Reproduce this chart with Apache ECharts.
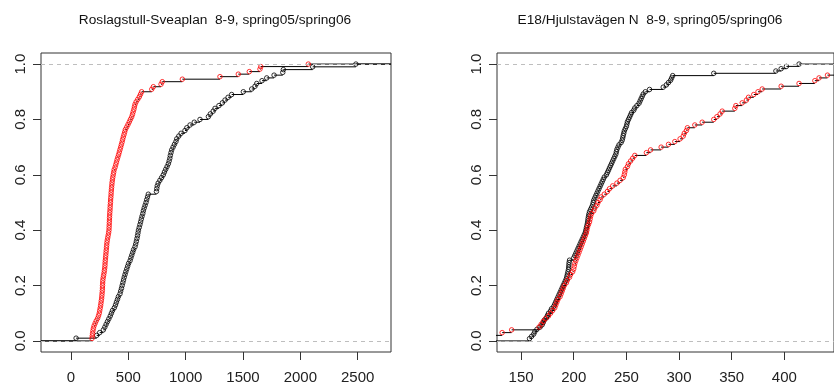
<!DOCTYPE html>
<html><head><meta charset="utf-8">
<script src="https://cdn.jsdelivr.net/npm/echarts@6/dist/echarts.min.js"></script>
<style>html,body{margin:0;padding:0;background:#fff}#c{width:834px;height:387px}</style>
</head><body><div id="c"></div>
<script>
const titleLeft = "Roslagstull-Sveaplan  8-9, spring05/spring06";
const titleRight = "E18/Hjulstavägen N  8-9, spring05/spring06";
const xTicksLeft = [0, 500, 1000, 1500, 2000, 2500];
const xTicksRight = [150, 200, 250, 300, 350, 400];
const yTicks = [0, 0.2, 0.4, 0.6, 0.8, 1.0];
const xlimLeft = [-262, 2791];
const xlimRight = [127.1, 447.2];

// Roslagstull-Sveaplan: spring05 (black) and spring06 (red) sample values
const blackLeft = [
  44, 224, 250, 282, 295, 306, 318, 330, 342, 352,
  362, 378, 388, 396, 405, 413, 427, 433, 440, 446,
  452, 458, 464, 471, 478, 486, 494, 502, 515, 522,
  530, 538, 546, 558, 564, 570, 575, 580, 584, 588,
  595, 601, 607, 613, 619, 626, 631, 638, 646, 654,
  660, 667, 674, 745, 748, 752, 760, 775, 790, 805,
  815, 826, 838, 849, 856, 862, 866, 872, 878, 890,
  902, 915, 922, 940, 960, 994, 1010, 1038, 1075, 1125,
  1198, 1215, 1240, 1256, 1290, 1320, 1343, 1370, 1401, 1503,
  1576, 1605, 1620, 1666, 1707, 1771, 1847, 1852, 2108, 2485
];
const redLeft = [
  183, 185, 188, 191, 195, 201, 210, 220, 232, 240,
  246, 250, 254, 258, 261, 264, 267, 269, 271, 273,
  274, 275, 276, 277, 280, 284, 288, 291, 294, 296,
  297, 299, 301, 303, 305, 307, 309, 311, 313, 316,
  320, 324, 328, 331, 332, 333, 334, 335, 336, 337,
  338, 340, 341, 342, 344, 345, 347, 349, 350, 352,
  354, 356, 358, 361, 364, 368, 372, 376, 384, 390,
  396, 402, 408, 415, 421, 427, 433, 439, 445, 450,
  456, 462, 468, 474, 486, 497, 508, 518, 529, 536,
  542, 548, 553, 558, 568, 582, 596, 606, 616,
  704, 718, 785, 796, 971, 1299, 1459, 1555, 1648, 1655, 2070
];
// E18/Hjulstavägen N
const blackRight = [
  158, 160, 162, 163, 165, 168, 170, 171, 172, 174,
  175, 176, 178, 179, 181, 182, 183, 184, 185, 186,
  187, 188, 189, 190, 191, 192, 193, 193.5, 194, 194.5,
  195, 195.2, 195.4, 195.6, 196, 200, 201, 202, 203, 204,
  205, 206, 207, 208, 209, 210, 211, 211.5, 212, 212.5,
  213, 213.3, 213.6, 214, 214.4, 215, 216, 217, 218, 218.5,
  219, 220, 221, 222, 223, 224, 225, 226, 227, 228,
  229, 231, 232, 233, 234, 235, 236, 237, 238, 239,
  240, 240.5, 241, 242, 243, 245, 246, 246.5, 247, 247.5,
  248, 249, 250, 250.5, 251, 252, 253, 254, 255, 257,
  258, 260, 262, 263, 264, 265, 266, 268, 272, 285,
  288, 290, 292, 293, 294, 333, 392, 397, 402, 414
];
const redRight = [
  112, 122, 132, 141, 167, 169, 171, 173, 176, 178,
  180, 182, 183, 184, 185, 187, 188, 189, 190, 191,
  193, 194, 196, 197, 199, 200, 200.5, 201, 202, 203,
  204, 205, 206, 207, 208, 209, 210, 211, 212, 212.5,
  213, 214, 215, 215.5, 216, 217, 219, 220, 222, 223,
  225, 226, 229, 232, 234, 237, 241, 244, 247, 248,
  248.5, 249, 251, 252, 254, 256, 258, 269, 273, 283,
  290, 296, 301, 304, 305, 307, 308, 315, 322, 333,
  336, 339, 341, 353, 354, 360, 364, 366, 371, 375,
  379, 397, 414, 429, 433, 441, 452, 468, 490, 520
];

function ecdfParts(vals, lo, hi) {
  const s = vals.slice().sort((a, b) => a - b);
  const n = s.length;
  const pts = [];
  for (let i = 0; i < n; i++) {
    if (i < n - 1 && s[i + 1] === s[i]) continue;
    pts.push([s[i], (i + 1) / n]);
  }
  const seg = [[lo, 0], [pts[0][0], 0], '-'];
  for (let k = 0; k < pts.length; k++) {
    const nx = k < pts.length - 1 ? pts[k + 1][0] : hi;
    seg.push([pts[k][0], pts[k][1]], [nx, pts[k][1]], '-');
  }
  return { pts, seg };
}

const FONT = '"Liberation Sans", Arial, sans-serif';
const chart = echarts.init(document.getElementById('c'), null, { renderer: 'canvas' });

function xAxisCfg(gi, lim, ticks) {
  return {
    type: 'value', gridIndex: gi, min: lim[0], max: lim[1], position: 'bottom',
    splitLine: { show: false },
    axisLine: { show: false, onZero: false },
    axisTick: { show: true, customValues: ticks, length: 8, lineStyle: { color: '#333', width: 1 } },
    axisLabel: { customValues: ticks, fontSize: 15, color: '#222', fontFamily: FONT, margin: 18,
      formatter: v => String(v) }
  };
}
function yAxisCfg(gi) {
  return {
    type: 'value', gridIndex: gi, min: -0.04, max: 1.04, position: 'left',
    splitLine: { show: false },
    axisLine: { show: false, onZero: false },
    axisTick: { show: true, customValues: yTicks, length: 8, lineStyle: { color: '#333', width: 1 } },
    axisLabel: { customValues: yTicks, fontSize: 15, color: '#222', fontFamily: FONT, rotate: 90, margin: 13,
      formatter: v => v.toFixed(1) }
  };
}

function panelSeries(gi, black, red, lim) {
  const b = ecdfParts(black, lim[0], lim[1]);
  const r = ecdfParts(red, lim[0], lim[1]);
  const lineBase = { type: 'line', xAxisIndex: gi, yAxisIndex: gi, symbol: 'none', showSymbol: false,
    connectNulls: false, clip: true, lineStyle: { color: '#000', width: 1 }, silent: true, animation: false };
  const ptBase = { type: 'scatter', xAxisIndex: gi, yAxisIndex: gi, symbol: 'circle', symbolSize: 4.5,
    clip: true, silent: true, animation: false };
  return [
    Object.assign({}, lineBase, { data: b.seg, z: 2 }),
    Object.assign({}, lineBase, { data: r.seg, z: 2 }),
    Object.assign({}, ptBase, { data: b.pts, z: 3, itemStyle: { color: 'rgba(0,0,0,0)', borderColor: '#000', borderWidth: 1 } }),
    Object.assign({}, ptBase, { data: r.pts, z: 4, itemStyle: { color: 'rgba(0,0,0,0)', borderColor: '#ff0000', borderWidth: 1 } }),
    { type: 'line', xAxisIndex: gi, yAxisIndex: gi, data: [], z: 5, silent: true, animation: false,
      markLine: { silent: true, symbol: 'none', animation: false, label: { show: false },
        lineStyle: { color: '#bebebe', type: [4, 4], width: 1 },
        data: [{ yAxis: 0 }, { yAxis: 1 }] } }
  ];
}

chart.setOption({
  animation: false,
  backgroundColor: '#fff',
  grid: [
    { left: 41, top: 53, width: 350, height: 299, show: true, borderColor: '#333', borderWidth: 1, backgroundColor: 'transparent' },
    { left: 497, top: 53, width: 350, height: 299, show: true, borderColor: '#333', borderWidth: 1, backgroundColor: 'transparent' }
  ],
  xAxis: [xAxisCfg(0, xlimLeft, xTicksLeft), xAxisCfg(1, xlimRight, xTicksRight)],
  yAxis: [yAxisCfg(0), yAxisCfg(1)],
  graphic: [
    { type: 'text', x: 215, y: 20, style: { text: titleLeft, fill: '#111', font: '13.7px ' + FONT,
      align: 'center', verticalAlign: 'middle', textAlign: 'center', textVerticalAlign: 'middle' } },
    { type: 'text', x: 650, y: 20, style: { text: titleRight, fill: '#111', font: '13.7px ' + FONT,
      align: 'center', verticalAlign: 'middle', textAlign: 'center', textVerticalAlign: 'middle' } }
  ],
  series: panelSeries(0, blackLeft, redLeft, xlimLeft).concat(panelSeries(1, blackRight, redRight, xlimRight))
});
</script></body></html>
